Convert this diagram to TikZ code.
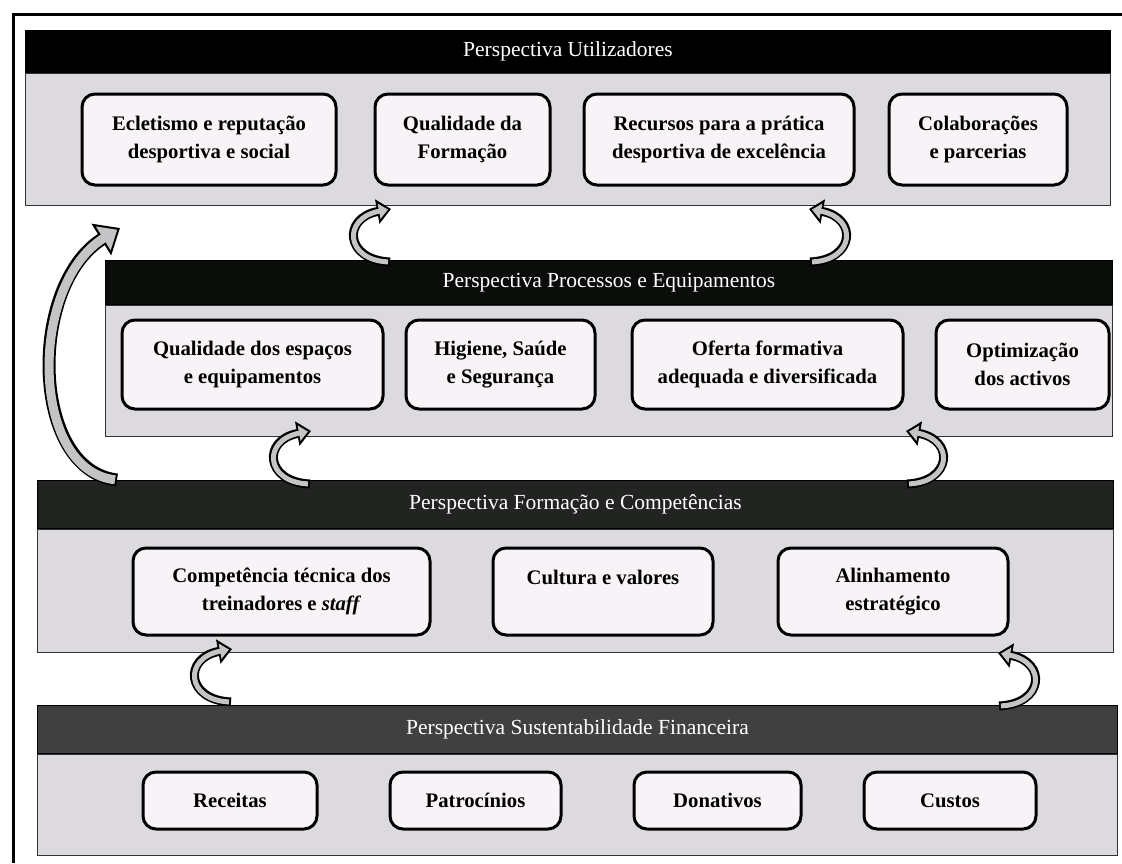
\documentclass[tikz,border=0pt]{standalone}
\usepackage{fontspec}
\setmainfont{Liberation Serif}
\usetikzlibrary{arrows.meta,positioning}

\definecolor{panelgray}{RGB}{220,218,222}
\definecolor{boxfill}{RGB}{247,243,247}
\definecolor{head1}{RGB}{0,0,0}
\definecolor{head2}{RGB}{10,13,10}
\definecolor{head3}{RGB}{34,36,34}
\definecolor{head4}{RGB}{64,64,64}
\definecolor{arrowgray}{RGB}{196,196,198}

\begin{document}
\begin{tikzpicture}[x=1pt,y=-1pt,
  head/.style={rectangle,draw=black,line width=1pt,text=white,anchor=north west,inner sep=0pt,
    font=\fontsize{21.5}{25}\selectfont},
  panel/.style={rectangle,draw=black!80,line width=1pt,fill=panelgray,anchor=north,inner sep=0pt},
  item/.style={rectangle,rounded corners=13pt,draw=black,line width=3pt,fill=boxfill,align=center,
    inner sep=0pt,font=\fontsize{20.7}{27.7}\selectfont\bfseries},
  loop outer/.style={line width=9pt,draw=black,-{Triangle[width=24pt,length=14pt]}},
  loop inner/.style={line width=5pt,draw=arrowgray,shorten <=2pt,shorten >=3.1pt,
    -{Triangle[width=15pt,length=9pt]}},
  big outer/.style={line width=13pt,draw=black,-{Triangle[width=36pt,length=22pt]}},
  big inner/.style={line width=9pt,draw=arrowgray,shorten <=2pt,shorten >=3.2pt,
    -{Triangle[width=27pt,length=16.5pt]}}]

 \useasboundingbox[fill=white] (0,0) rectangle (1122,863);
 \draw[line width=3pt] (1122,14) -- (13,14) -- (13,863);

 % panels
 \node[head,fill=head1,minimum width=1085pt,minimum height=42pt] (h1) at (25,30) {Perspectiva Utilizadores};
 \node[panel,minimum width=1085pt,minimum height=132pt] (p1) at (h1.south) {};
 \node[head,fill=head2,minimum width=1007pt,minimum height=44pt] (h2) at (105,260) {Perspectiva Processos e Equipamentos};
 \node[panel,minimum width=1007pt,minimum height=131pt] (p2) at (h2.south) {};
 \node[head,fill=head3,minimum width=1076pt,minimum height=48pt] (h3) at (37,480) {Perspectiva Formação e Competências};
 \node[panel,minimum width=1076pt,minimum height=123pt] (p3) at (h3.south) {};
 \node[head,fill=head4,minimum width=1080pt,minimum height=48pt] (h4) at (37,705) {Perspectiva Sustentabilidade Financeira};
 \node[panel,minimum width=1080pt,minimum height=101pt] (p4) at (h4.south) {};

 \node[item,minimum width=254pt,minimum height=91pt] (u1) at (209,139.5) {Ecletismo e reputação\\desportiva e social};
 \node[item,minimum width=175pt,minimum height=91pt] (u2) [right=36pt of u1] {Qualidade da\\Formação};
 \node[item,minimum width=270pt,minimum height=91pt] (u3) [right=31pt of u2] {Recursos para a prática\\desportiva de excelência};
 \node[item,minimum width=178pt,minimum height=91pt] (u4) [right=32pt of u3] {Colaborações\\e parcerias};

 \node[item,minimum width=261pt,minimum height=89pt] (q1) at (252.5,364.5) {Qualidade dos espaços\\e equipamentos};
 \node[item,minimum width=189pt,minimum height=89pt] (q2) [right=20pt of q1] {Higiene, Saúde\\e Segurança};
 \node[item,minimum width=271pt,minimum height=89pt] (q3) [right=34pt of q2] {Oferta formativa\\adequada e diversificada};
 \node[item,minimum width=173pt,minimum height=89pt] (q4) [right=30pt of q3] {Optimização\\dos activos};

 \node[item,minimum width=297pt,minimum height=87pt] (c1) at (281.5,591.5) {Competência técnica dos\\treinadores e \textit{staff}};
 \node[item,minimum width=220pt,minimum height=87pt] (c2) [right=60pt of c1] {Cultura e valores\\\mbox{}};
 \node[item,minimum width=230pt,minimum height=87pt] (c3) [right=62pt of c2] {Alinhamento\\estratégico};

 \node[item,minimum width=174pt,minimum height=57pt] (r1) at (230,800.5) {Receitas};
 \node[item,minimum width=171pt,minimum height=57pt] (r2) [right=70pt of r1] {Patrocínios};
 \node[item,minimum width=167pt,minimum height=57pt] (r3) [right=70pt of r2] {Donativos};
 \node[item,minimum width=172pt,minimum height=57pt] (r4) [right=60pt of r3] {Custos};

 % arrows between the perspectives
 \foreach \x/\y/\s in {390/262/1, 810/262/-1, 310/484/1, 907/484/-1, 231/702/1, 999/706/-1}{
  \begin{scope}[shift={(\x,\y)},xscale=\s]
   \draw[loop outer] (0,0) .. controls (-45,-2) and (-48,-44) .. (1,-53);
   \draw[loop inner] (0,0) .. controls (-45,-2) and (-48,-44) .. (1,-53);
  \end{scope}
 }
 \draw[big outer] (117,480) .. controls (30,470) and (28,285) .. (120,228);
 \draw[big inner] (117,480) .. controls (30,470) and (28,285) .. (120,228);

\end{tikzpicture}
\end{document}
